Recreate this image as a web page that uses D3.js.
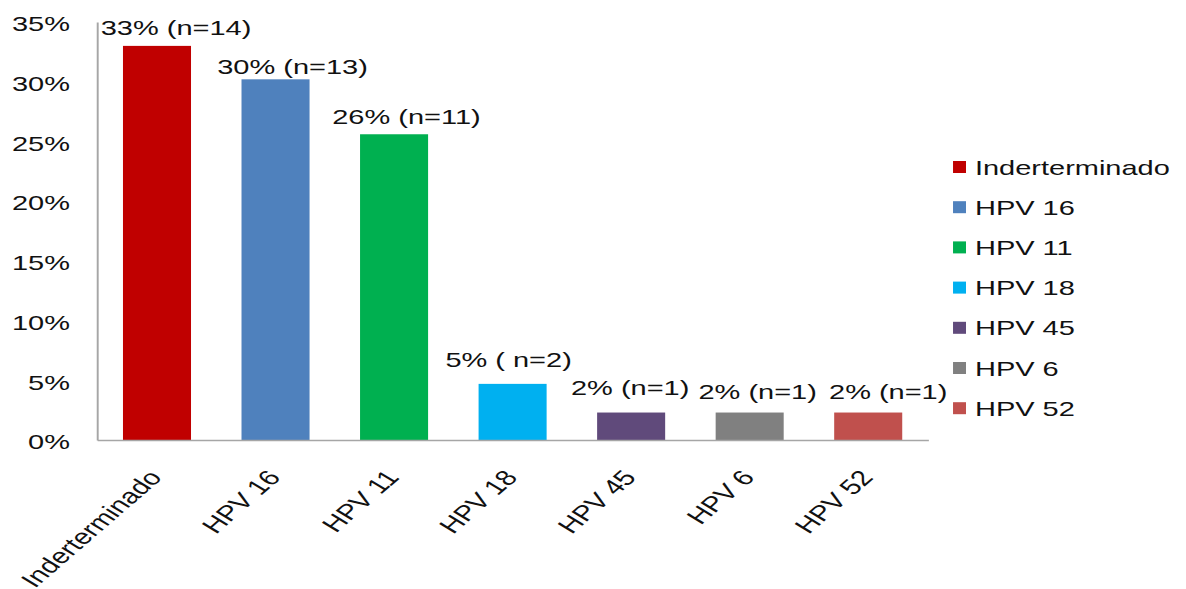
<!DOCTYPE html>
<html>
<head>
<meta charset="utf-8">
<script src="https://cdn.jsdelivr.net/npm/d3@7"></script>
<style>
  html, body { margin: 0; padding: 0; background: #fff; overflow: hidden; }
  svg { display: block; }
  text { font-family: "Liberation Sans", Arial, sans-serif; fill: #111; }
</style>
</head>
<body>
<svg id="chart"></svg>
<script>
// HPV genotype distribution (percent of positive samples)
const categories = ["Inderterminado", "HPV 16", "HPV 11", "HPV 18", "HPV 45", "HPV 6", "HPV 52"];
const percents   = [33, 30.2, 25.6, 4.7, 2.3, 2.3, 2.3];
const valueLabels = ["33% (n=14)", "30% (n=13)", "26% (n=11)", "5% ( n=2)", "2% (n=1)", "2% (n=1)", "2% (n=1)"];
const colors     = ["#C00000", "#4F81BD", "#00B050", "#00B0F0", "#604A7B", "#808080", "#C0504D"];
const yTicks     = [0, 5, 10, 15, 20, 25, 30, 35];

// The drawing is laid out on a narrower canvas and stretched horizontally to the window.
const W = 1186, H = 589, stretch = 1.38;
const VW = W / stretch;

// Small per-label nudges for the value labels (x in canvas units, y in px above bar top)
const labelDx = [13.8, 12.3, 9, -2.9, -0.7, 5.8, 14.5];
const labelGap = [10.7, 5.4, 10, 17.3, 17.7, 13.7, 13.7];

const svg = d3.select("#chart")
  .attr("width", W).attr("height", H)
  .attr("viewBox", `0 0 ${VW} ${H}`)
  .attr("preserveAspectRatio", "none");

const plot = { left: 70.3, right: 672.6, top: 22, bottom: 440 };

const x = d3.scaleBand()
  .domain(categories)
  .range([plot.left, plot.right])
  .paddingInner(0.426)
  .paddingOuter(0.219);

const y = d3.scaleLinear().domain([0, 35]).range([plot.bottom, plot.top]);

const axisColor = "#A6A6A6";

// Bars
svg.append("g").selectAll("rect")
  .data(categories)
  .join("rect")
  .attr("x", d => x(d))
  .attr("width", x.bandwidth())
  .attr("y", (d, i) => y(percents[i]))
  .attr("height", (d, i) => y(0) - y(percents[i]))
  .attr("fill", (d, i) => colors[i]);

// Y axis
const yAxis = svg.append("g")
  .attr("transform", `translate(${plot.left},0)`)
  .call(d3.axisLeft(y).tickValues(yTicks).tickSize(0).tickPadding(19.6).tickFormat(d => d + "%"));
yAxis.select(".domain").attr("stroke", axisColor).attr("stroke-width", 1.4);
yAxis.selectAll("text")
  .attr("font-size", 21)
  .attr("fill", "#111")
  .attr("dy", "0.42em")
  .style("font-family", "'Liberation Sans', Arial, sans-serif");

// X axis baseline
const xAxis = svg.append("g")
  .attr("transform", `translate(0,${plot.bottom})`)
  .call(d3.axisBottom(x).tickSize(0).tickFormat(""));
xAxis.select(".domain").attr("stroke", axisColor).attr("stroke-width", 1.4);

// Rotated category labels
svg.append("g").selectAll("text")
  .data(categories)
  .join("text")
  .attr("text-anchor", "end")
  .attr("font-size", 21.5)
  .attr("transform", d => `translate(${x(d) + x.bandwidth() / 2 + 4.5},${plot.bottom + 38}) rotate(-50)`)
  .text(d => d);

// Value labels above bars
svg.append("g").selectAll("text")
  .data(categories)
  .join("text")
  .attr("text-anchor", "middle")
  .attr("font-size", 21)
  .attr("x", (d, i) => x(d) + x.bandwidth() / 2 + labelDx[i])
  .attr("y", (d, i) => y(percents[i]) - labelGap[i])
  .text((d, i) => valueLabels[i]);

// Legend
const legend = svg.append("g").attr("transform", "translate(690.6,167)");
const rows = legend.selectAll("g")
  .data(categories)
  .join("g")
  .attr("transform", (d, i) => `translate(0,${i * 40.2})`);
rows.append("rect")
  .attr("x", 0).attr("y", -6)
  .attr("width", 9.4).attr("height", 12)
  .attr("fill", (d, i) => colors[i]);
rows.append("text")
  .attr("x", 15.9)
  .attr("dy", "0.36em")
  .attr("font-size", 21)
  .text(d => d);
</script>
</body>
</html>
